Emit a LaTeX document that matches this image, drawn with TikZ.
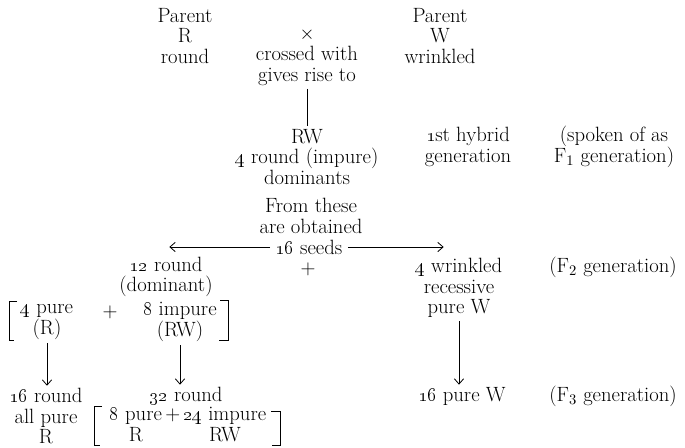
\documentclass[tikz,border=0pt]{standalone}
\usetikzlibrary{arrows.meta}

\begin{document}
\begin{tikzpicture}[x=0.75pt, y=-0.75pt, >={Straight Barb[length=4pt,width=7pt]},
  txt/.style={font={\fontsize{15.5}{15.5}\selectfont}, align=center, inner xsep=2pt, inner ysep=0.5pt},
  descent/.style={->, line width=0.6pt, shorten <=2pt, shorten >=1pt}]
  \useasboundingbox (0,0) rectangle (685,447);
  % parents and the cross
  \node[txt] (parR) at (185,36) {Parent\\R\\round};
  \node[txt] (cross) at (307,57) {$\times$\\crossed with\\gives rise to};
  \node[txt] (parW) at (440,36) {Parent\\W\\wrinkled};
  % first generation
  \node[txt] (gen1) at (307,157) {RW\\\oldstylenums{4} round (impure)\\dominants};
  \node[txt] (hyb1) at (468,147) {\oldstylenums{1}st hybrid\\generation};
  \node[txt] (spoken) at (614,147) {(spoken of as\\F$_1$ generation)};
  \draw[line width=0.6pt, shorten <=2pt, shorten >=2pt] (cross.south) -- (gen1.north);
  % seeds
  \node[txt] (obtain) at (311,216) {From these\\are obtained};
  \node[txt] (seeds) at (309,247) {\oldstylenums{16} seeds};
  \coordinate (tipL) at (168,247); \coordinate (tipR) at (445,247);
  \draw[descent] (seeds.west) -- (tipL); \draw[descent] (seeds.east) -- (tipR);
  % second generation
  \node[txt] (dom) at (166,277) {\oldstylenums{12} round\\(dominant)};
  \node[txt] (plus1) at (308,269) {+};
  \node[txt] (rec) at (459,288) {\oldstylenums{4} wrinkled\\recessive\\pure W};
  \node[txt] (gen2) at (613,267) {(F$_2$ generation)};
  \node[txt] (pure4) at (47,322) {\oldstylenums{4} pure\\(R)};
  \node[txt] (plus2) at (110,312) {+};
  \node[txt] (imp8) at (180,322) {\oldstylenums{8} impure\\(RW)};
  \draw[line width=0.6pt] (17,301) -- (9,301) -- (9,340) -- (14,340);
  \draw[line width=0.6pt] (220,300) -- (228,300) -- (228,340) -- (219,340);
  % third generation
  \node[txt] (r16) at (46,416) {\oldstylenums{16} round\\all pure\\R};
  \node[txt] (r32) at (186,396) {\oldstylenums{32} round};
  \node[txt, inner sep=0pt] (mix) at (188,427) {\begin{tabular}{@{}c@{\,}c@{\,}c@{}}
    \oldstylenums{8} pure & + & \oldstylenums{24} impure\\ R & & RW\end{tabular}};
  \draw[line width=0.6pt] (102,406) -- (94,406) -- (94,445) -- (100,445);
  \draw[line width=0.6pt] (271,411) -- (280,411) -- (280,445) -- (272,445);
  \node[txt] (w16) at (462,396) {\oldstylenums{16} pure W};
  \node[txt] (gen3) at (613,396) {(F$_3$ generation)};
  \draw[descent] (pure4.south) -- (pure4.south |- r16.north);
  \draw[descent] (imp8.south) -- (imp8.south |- r32.north);
  \draw[descent] (rec.south) -- (rec.south |- w16.north);
\end{tikzpicture}
\end{document}
